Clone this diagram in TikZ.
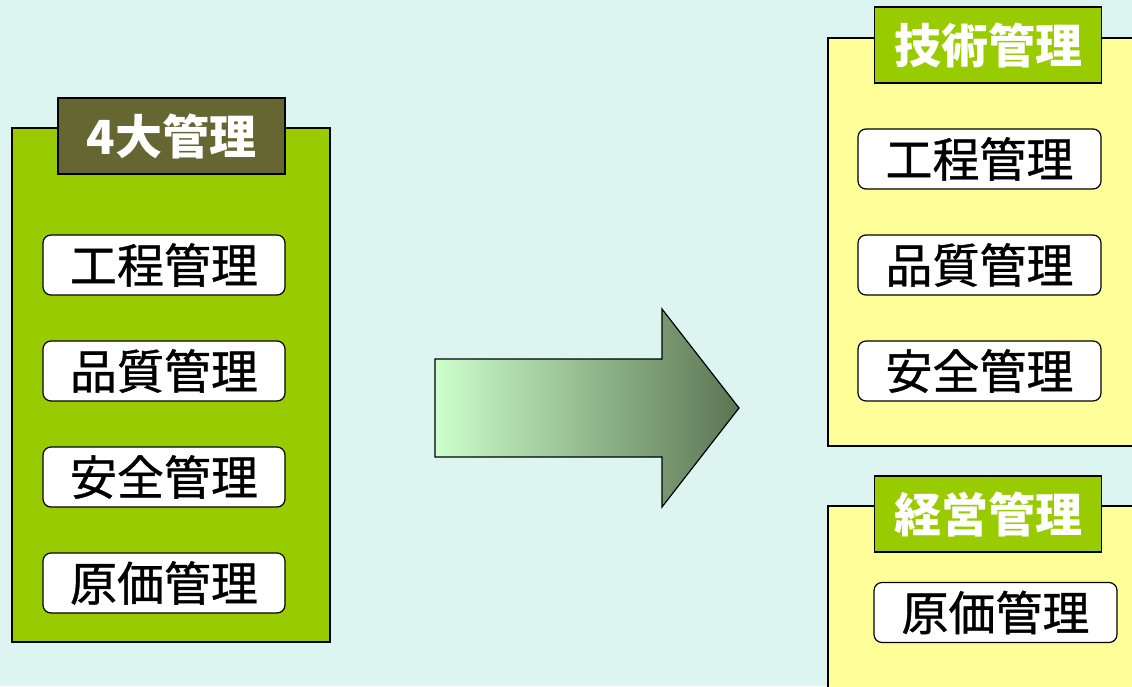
\documentclass[tikz,border=0pt]{standalone}
\usepackage{fontspec}
\setmainfont{Noto Sans CJK JP}
\newfontfamily\itemfont[FakeBold=0.8]{Noto Sans CJK JP}
\usetikzlibrary{positioning}

\definecolor{paleaqua}{HTML}{DDF5F1}
\definecolor{leafgreen}{HTML}{99CC00}
\definecolor{olivebrown}{HTML}{666633}
\definecolor{paleyellow}{HTML}{FFFF99}
\definecolor{mintlight}{HTML}{CCFFCC}
\definecolor{mossdark}{HTML}{5B7553}

\tikzset{
	panel/.style={draw=black,line width=1.5pt,inner sep=0pt},
	headbox/.style={draw=black,line width=1.5pt,text=white,inner sep=0pt,
		minimum width=227pt,minimum height=76pt,
		font=\fontsize{47}{52}\selectfont\bfseries},
	itembox/.style={draw=black,fill=white,line width=1.2pt,rounded corners=8pt,
		inner sep=0pt,minimum width=242pt,minimum height=60pt,
		font=\itemfont\fontsize{47}{52}\selectfont}
}

\begin{document}
\begin{tikzpicture}[x=1pt,y=-1pt]
		\useasboundingbox (0,0) rectangle (1132,686);
		\clip (0,0) rectangle (1132,686);
		\fill[paleaqua] (0,0) rectangle (1132,686);

		% left: the four areas
		\node[panel,fill=leafgreen,minimum width=318pt,minimum height=514pt] (four) at (171,385) {};
		\node[headbox,fill=olivebrown] (fourhead) at (171.5,136) {4大管理};
		\begin{scope}[every node/.style={itembox}]
			\node (koutei) at (164,265) {工程管理};
			\node (hinshitsu) at (164,371) {品質管理};
			\node (anzen) at (164,477) {安全管理};
			\node (genka) at (164,583) {原価管理};
		\end{scope}

		% big arrow in the middle
		\draw[line width=1.2pt,left color=mintlight,right color=mossdark]
			(435,359) -- (662,359) -- (662,309) -- (739,408) -- (662,507)
			-- (662,457) -- (435,457) -- cycle;

		% right: technical / business
		\node[panel,fill=paleyellow,minimum width=312pt,minimum height=408pt] (tech) at (984,242) {};
		\node[panel,fill=paleyellow,minimum width=312pt,minimum height=194pt] (biz) at (984,603) {};
		\node[headbox,fill=leafgreen] (techhead) at (988,45) {技術管理};
		\node[headbox,fill=leafgreen] (bizhead) at (988,514) {経営管理};
		\begin{scope}[every node/.style={itembox,minimum width=243pt}]
			\node (koutei2) at (979.5,159) {工程管理};
			\node (hinshitsu2) at (979.5,265) {品質管理};
			\node (anzen2) at (979.5,371) {安全管理};
			\node (genka2) at (995.5,612.5) {原価管理};
		\end{scope}
	\end{tikzpicture}
\end{document}
